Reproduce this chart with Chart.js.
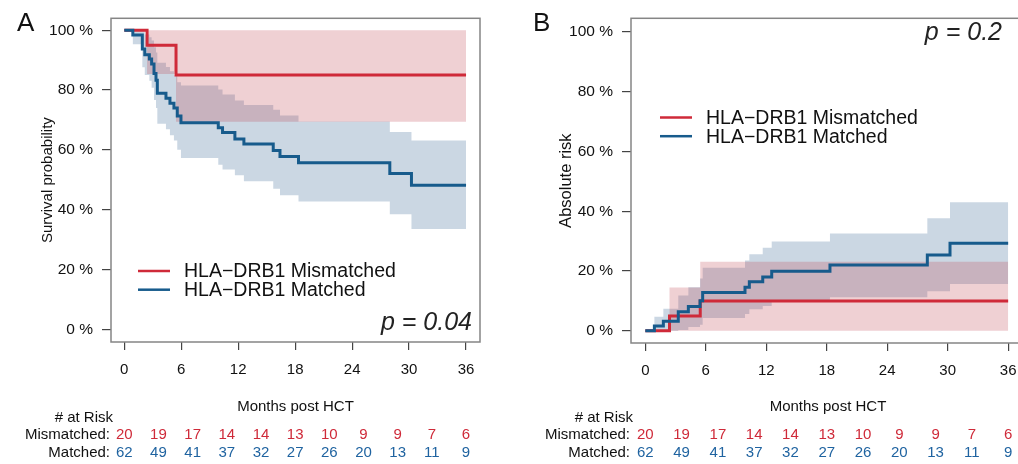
<!DOCTYPE html>
<html>
<head>
<meta charset="utf-8">
<title>HLA-DRB1 mismatch: survival and absolute risk</title>
<script src="https://cdn.jsdelivr.net/npm/chart.js@4.4.1/dist/chart.umd.min.js"></script>
<style>
    html, body { margin: 0; padding: 0; background: #fff; overflow: hidden; }
    #wrap { position: relative; width: 1018px; height: 464px; overflow: hidden; }
    .panel { position: absolute; top: 0; height: 464px; }
    #panelA { left: 0; width: 509px; }
    #panelB { left: 509px; width: 520px; }
</style>
</head>
<body>
<div id="wrap">
    <div class="panel" id="panelA"><canvas id="survivalChart" width="509" height="464"></canvas></div>
    <div class="panel" id="panelB"><canvas id="riskChart" width="520" height="464"></canvas></div>
</div>
<script>
'use strict';

// ---- axes / at-risk table ----
const xTicks = [0, 6, 12, 18, 24, 30, 36];
const yTicks = [0, 20, 40, 60, 80, 100];
const yTickLabels = ['0 %', '20 %', '40 %', '60 %', '80 %', '100 %'];
const riskTimes = [0, 3.6, 7.2, 10.8, 14.4, 18, 21.6, 25.2, 28.8, 32.4, 36];
const riskMismatched = [20, 19, 17, 14, 14, 13, 10, 9, 9, 7, 6];
const riskMatched = [62, 49, 41, 37, 32, 27, 26, 20, 13, 11, 9];

// ---- A: survival, mismatched ----
const survMisTimes = [0, 2.4, 5.45, 36];
const survMis = [100, 95, 85, 85];
const survMisLower = [100, 85.4, 69.4, 69.4];
const survMisUpper = [100, 100, 100, 100];

// ---- A: survival, matched ----
const survMatTimes = [0, 0.9, 1.9, 2.16, 2.64, 2.88, 3.13, 3.34, 3.48, 4.39, 4.81, 5.23, 5.58, 5.97,
    9.9, 10.35, 11.65, 12.6, 15.69, 16.4, 18.35, 27.97, 30.25, 36];
const survMat = [100, 98.4, 93.7, 91.8, 90.4, 88.7, 85.5, 83.3, 78.9, 77.3, 75.6, 74.0, 71.3, 69.1,
    67.4, 65.8, 63.6, 62.0, 59.8, 57.8, 55.7, 52.1, 48.2, 48.2];
const survMatLower = [100, 95.3, 87.6, 85.0, 83.1, 80.8, 76.7, 74.0, 68.7, 66.9, 64.9, 63.1, 60.0, 57.3,
    55.0, 53.4, 51.5, 49.5, 47.0, 44.8, 42.7, 38.5, 33.5, 33.5];
const survMatUpper = [100, 100, 99.8, 98.6, 97.7, 96.6, 94.3, 92.6, 89.1, 87.7, 86.3, 84.9, 82.6, 81.5,
    80.2, 78.5, 76.5, 75.0, 73.4, 71.5, 69.5, 66.0, 63.1, 63.1];

// ---- B: absolute risk, mismatched ----
const riskMisTimes = [0, 2.4, 5.45, 36];
const riskMis = [0, 5, 10, 10];
const riskMisLower = [0, 0, 0, 0];
const riskMisUpper = [0, 14.5, 23.1, 23.1];

// ---- B: absolute risk, matched ----
const riskMatTimes = [0, 0.9, 1.79, 3.27, 4.27, 5.43, 5.69, 9.89, 10.32, 11.65, 12.54, 18.32, 27.98, 30.23, 36];
const riskMat = [0, 1.6, 3.2, 6.4, 8.1, 10.1, 12.8, 14.6, 16.4, 18.0, 19.9, 22.0, 25.4, 29.3, 29.3];
const riskMatLower = [0, 0, 0, 0.3, 1.3, 2.0, 4.3, 5.6, 7.2, 8.3, 9.7, 11.2, 13.2, 15.7, 15.7];
const riskMatUpper = [0, 4.7, 7.4, 11.8, 14.6, 17.5, 21.1, 23.5, 25.6, 27.8, 29.9, 32.6, 37.7, 43.0, 43.0];

const FONT = "'Liberation Sans', Arial, Helvetica, sans-serif";
const RED = '#cf2a39';
const BLUE = '#175b8c';
const RED_BAND = 'rgba(191, 67, 79, 0.25)';
const BLUE_BAND = 'rgba(47, 95, 143, 0.25)';
const LABEL_MIS = 'HLA\u2212DRB1 Mismatched';
const LABEL_MAT = 'HLA\u2212DRB1 Matched';

Chart.defaults.font.family = FONT;
Chart.defaults.color = '#111';

function toPoints(times, values) {
    return times.map((t, i) => ({ x: t, y: values[i] }));
}

function stepLine(label, color, times, values, order) {
    return {
        label: label,
        data: toPoints(times, values),
        borderColor: color,
        backgroundColor: color,
        borderWidth: 3,
        stepped: 'before',
        pointRadius: 0,
        fill: false,
        order: order
    };
}

// Upper bound fills down to the lower bound (next dataset)
function stepBand(color, times, lower, upper) {
    const common = {
        borderColor: 'rgba(0,0,0,0)',
        borderWidth: 0,
        backgroundColor: color,
        stepped: 'before',
        pointRadius: 0,
        order: 5
    };
    return [
        Object.assign({ data: toPoints(times, upper), fill: '+1' }, common),
        Object.assign({ data: toPoints(times, lower), fill: false }, common)
    ];
}

/**
 * Box, panel letter, p-value, legend and number-at-risk table
 */
const panelDecor = {
    id: 'panelDecor',
    afterDatasetsDraw(chart, args, opts) {
        const ctx = chart.ctx;
        const area = chart.chartArea;
        const xScale = chart.scales.x;

        ctx.save();

        // plot frame
        ctx.strokeStyle = '#858585';
        ctx.lineWidth = 1.5;
        ctx.strokeRect(area.left, area.top, area.right - area.left, area.bottom - area.top);

        // panel letter
        ctx.fillStyle = '#111';
        ctx.font = '26px ' + FONT;
        ctx.textAlign = 'left';
        ctx.textBaseline = 'alphabetic';
        ctx.fillText(opts.letter, opts.letterX, 30.5);

        // p-value
        ctx.fillStyle = '#222';
        ctx.font = 'italic 25px ' + FONT;
        ctx.textAlign = 'right';
        ctx.textBaseline = 'middle';
        ctx.fillText(opts.pText, opts.pX, opts.pY);

        // legend, taken from the two step-line datasets
        ctx.font = '19.5px ' + FONT;
        ctx.textAlign = 'left';
        [chart.data.datasets[1], chart.data.datasets[0]].forEach((ds, i) => {
            const y = opts.legendY + i * 18.7;
            ctx.strokeStyle = ds.borderColor;
            ctx.lineWidth = 2.5;
            ctx.beginPath();
            ctx.moveTo(opts.legendX, y);
            ctx.lineTo(opts.legendX + 32, y);
            ctx.stroke();
            ctx.fillStyle = '#111';
            ctx.fillText(ds.label, opts.legendX + 46, y + 1);
        });

        // number at risk
        ctx.font = '15px ' + FONT;
        ctx.fillStyle = '#111';
        ctx.textAlign = 'right';
        ctx.fillText('# at Risk', area.left + 2, 418);
        ctx.fillText('Mismatched:', area.left - 1, 435);
        ctx.fillText('Matched:', area.left - 1, 453);

        ctx.textAlign = 'center';
        riskTimes.forEach((t, i) => {
            const x = xScale.getPixelForValue(t);
            ctx.fillStyle = RED;
            ctx.fillText(String(riskMismatched[i]), x, 435);
            ctx.fillStyle = '#1f63a0';
            ctx.fillText(String(riskMatched[i]), x, 453);
        });

        ctx.restore();
    }
};

function buildScales(cfg) {
    return {
        x: {
            type: 'linear',
            min: cfg.xMin,
            max: cfg.xMax,
            afterBuildTicks: scale => { scale.ticks = xTicks.map(v => ({ value: v })); },
            afterFit: scale => { scale.height = cfg.bottomHeight; },
            ticks: {
                autoSkip: false,
                maxRotation: 0,
                padding: 11,
                color: '#111',
                font: { size: 15 },
                callback: value => String(value)
            },
            grid: {
                drawOnChartArea: false,
                drawTicks: true,
                tickLength: 8,
                color: '#444',
                lineWidth: 1.2
            },
            border: { display: false },
            title: {
                display: true,
                text: 'Months post HCT',
                color: '#111',
                font: { size: 15 },
                padding: { top: 0, bottom: 48 }
            }
        },
        y: {
            type: 'linear',
            min: cfg.yMin,
            max: cfg.yMax,
            afterBuildTicks: scale => { scale.ticks = yTicks.map(v => ({ value: v })); },
            afterFit: scale => { scale.width = cfg.leftWidth; },
            ticks: {
                autoSkip: false,
                padding: 9,
                color: '#111',
                font: { size: 15.5 },
                callback: value => yTickLabels[yTicks.indexOf(value)]
            },
            grid: {
                drawOnChartArea: false,
                drawTicks: true,
                tickLength: 9,
                color: '#444',
                lineWidth: 1.2
            },
            border: { display: false },
            title: {
                display: true,
                text: cfg.yTitle,
                color: '#111',
                font: { size: cfg.yTitleSize },
                padding: { top: cfg.yTitlePad, bottom: 0 }
            }
        }
    };
}

function buildChart(canvasId, datasets, scaleCfg, padding, decor) {
    return new Chart(document.getElementById(canvasId), {
        type: 'line',
        data: { datasets: datasets },
        options: {
            responsive: false,
            animation: false,
            layout: { padding: padding },
            plugins: {
                legend: { display: false },
                tooltip: { enabled: false },
                panelDecor: decor
            },
            scales: buildScales(scaleCfg)
        },
        plugins: [panelDecor]
    });
}

// A: overall survival
buildChart('survivalChart',
    [
        stepLine(LABEL_MAT, BLUE, survMatTimes, survMat, 0),
        stepLine(LABEL_MIS, RED, survMisTimes, survMis, 1)
    ]
        .concat(stepBand(RED_BAND, survMisTimes, survMisLower, survMisUpper))
        .concat(stepBand(BLUE_BAND, survMatTimes, survMatLower, survMatUpper)),
    {
        xMin: -1.4, xMax: 37.47, yMin: -4.26, yMax: 104.0,
        leftWidth: 111, bottomHeight: 122,
        yTitle: 'Survival probability', yTitleSize: 15, yTitlePad: 39
    },
    { top: 12, right: 29, bottom: 0, left: 0 },
    {
        letter: 'A', letterX: 17,
        pText: 'p = 0.04', pX: 472, pY: 323,
        legendX: 138, legendY: 271
    }
);

// B: absolute risk
buildChart('riskChart',
    [
        stepLine(LABEL_MAT, BLUE, riskMatTimes, riskMat, 0),
        stepLine(LABEL_MIS, RED, riskMisTimes, riskMis, 1)
    ]
        .concat(stepBand(RED_BAND, riskMisTimes, riskMisLower, riskMisUpper))
        .concat(stepBand(BLUE_BAND, riskMatTimes, riskMatLower, riskMatUpper)),
    {
        xMin: -1.42, xMax: 37.67, yMin: -4.07, yMax: 104.55,
        leftWidth: 122, bottomHeight: 121,
        yTitle: 'Absolute risk', yTitleSize: 16.5, yTitlePad: 48
    },
    { top: 9, right: 4, bottom: 0, left: 0 },
    {
        letter: 'B', letterX: 24,
        pText: 'p = 0.2', pX: 493, pY: 33,
        legendX: 151, legendY: 117.5
    }
);
</script>
</body>
</html>
